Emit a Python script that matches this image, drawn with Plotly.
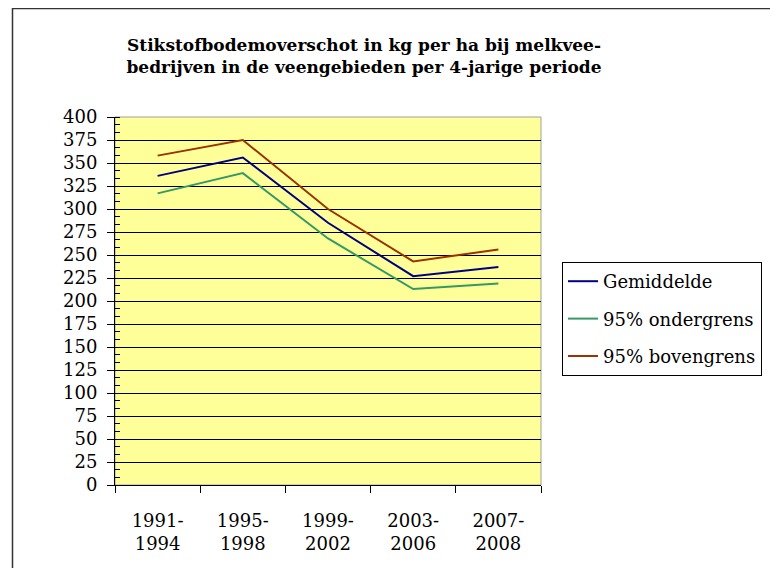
import plotly.graph_objects as go

periodes = ["1991-<br>1994", "1995-<br>1998", "1999-<br>2002", "2003-<br>2006", "2007-<br>2008"]
gemiddelde = [336, 356, 285, 227, 237]
ondergrens = [317, 339, 268, 213, 219]
bovengrens = [358, 375, 300, 243, 256]

series = [
    ("Gemiddelde", gemiddelde, "#000080"),
    ("95% ondergrens", ondergrens, "#339966"),
    ("95% bovengrens", bovengrens, "#993300"),
]

font = "DejaVu Serif"

fig = go.Figure()
for name, vals, color in series:
    fig.add_trace(go.Scatter(x=periodes, y=vals, mode="lines", name=name, legendgroup=name,
                             line=dict(color=color, width=2)))

# page has an 8px body margin, so figure coords are screen coords minus 8
L, T, W, H = 107, 109, 426, 368

fig.add_shape(type="rect", xref="paper", yref="paper", x0=0, x1=1, y0=0, y1=1,
              line=dict(color="#a0a0a0", width=1), layer="below")
fig.add_shape(type="rect", xref="paper", yref="paper",
              x0=(4.5 - L) / W, x1=2, y0=-1, y1=(T + H - 0.5) / H,
              line=dict(color="#333333", width=1.5))

fig.update_layout(
    width=778, height=568,
    margin=dict(l=L, r=778 - L - W, t=T, b=568 - T - H),
    paper_bgcolor="white", plot_bgcolor="#ffff99",
    font=dict(family=font, size=18, color="black"),
    title=dict(text="<b>Stikstofbodemoverschot in kg per ha bij melkvee-<br>bedrijven in de veengebieden per 4-jarige periode</b>",
               x=356 / 778, xref="container", xanchor="center", y=1 - 43 / 568, yanchor="middle",
               font=dict(family=font, size=17)),
    legend=dict(x=(554 - L) / W, y=(T + H - 254) / H, xanchor="left", yanchor="top",
                bordercolor="black", borderwidth=1, bgcolor="white",
                font=dict(family=font, size=18), tracegroupgap=11),
    showlegend=True,
)
fig.update_xaxes(showline=True, linecolor="black", linewidth=1, showgrid=False,
                 ticks="outside", ticklen=7, tickcolor="black", tickson="boundaries",
                 ticklabelstandoff=19, range=[-0.5, 4.5])
fig.update_yaxes(range=[0, 400], dtick=25, showline=True, linecolor="black", linewidth=1,
                 showgrid=True, gridcolor="black", gridwidth=1, zeroline=False,
                 ticks="outside", ticklen=7, tickcolor="black", ticklabelstandoff=6,
                 minor=dict(dtick=25 / 3, ticks="inside", ticklen=5, tickcolor="black", showgrid=False))

fig.write_html("out.html")
